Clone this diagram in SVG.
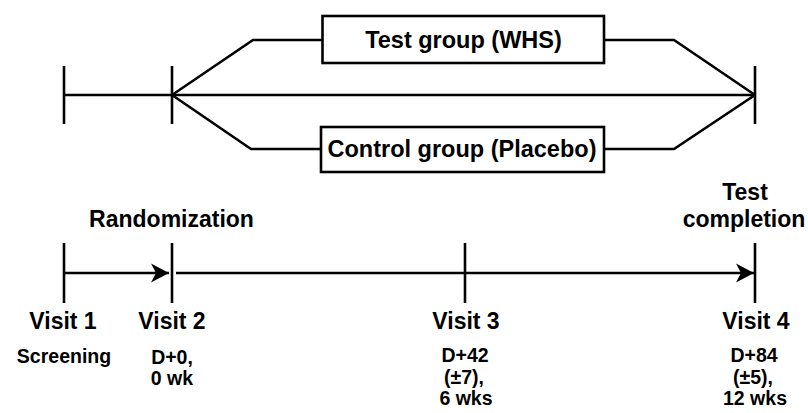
<svg xmlns="http://www.w3.org/2000/svg" width="808" height="413" viewBox="0 0 808 413">
<defs>
<style>
.ln{stroke:#000;stroke-width:2.6;fill:none;stroke-linejoin:miter}
.box{stroke:#000;stroke-width:2.6;fill:#fff}
.t{font-family:"Liberation Sans",Arial,sans-serif;font-weight:bold;fill:#000;text-anchor:middle}
.big{font-size:23.5px}
.mid{font-size:23px}
.sm{font-size:19.5px}
</style>
<marker id="ah" markerUnits="userSpaceOnUse" markerWidth="20" markerHeight="20" viewBox="-19 -10 20 20" refX="0" refY="0" orient="auto">
<path d="M0,0 L-18,-9.5 L-13,0 L-18,9.5 Z" fill="#000"/>
</marker>
</defs>
<rect width="808" height="413" fill="#fff"/>
<g id="connectors">
<line class="ln" x1="64" y1="95" x2="755" y2="95"/>
<polyline class="ln" points="172,95 253,40 323,40"/>
<polyline class="ln" points="604,40 674,40 755,95"/>
<polyline class="ln" points="172,95 251,149 321,149"/>
<polyline class="ln" points="604,149 674,149 755,95"/>
<line class="ln" x1="64" y1="66" x2="64" y2="124"/>
<line class="ln" x1="172" y1="66" x2="172" y2="124"/>
<line class="ln" x1="755" y1="66" x2="755" y2="124"/>
<line class="ln" x1="64" y1="273" x2="169" y2="273" marker-end="url(#ah)"/>
<line class="ln" x1="176" y1="273" x2="754" y2="273" marker-end="url(#ah)"/>
<line class="ln" x1="64" y1="243" x2="64" y2="303"/>
<line class="ln" x1="172" y1="243" x2="172" y2="303"/>
<line class="ln" x1="465" y1="243" x2="465" y2="303"/>
<line class="ln" x1="755" y1="243" x2="755" y2="303"/>
</g>
<g id="test-group">
<rect class="box" x="322.5" y="16" width="281.5" height="47"/>
<text class="t big" x="463.5" y="48">Test group (WHS)</text>
</g>
<g id="control-group">
<rect class="box" x="321" y="127" width="283" height="45"/>
<text class="t big" x="462" y="157">Control group (Placebo)</text>
</g>
<g id="randomization">
<text class="t mid" x="171.5" y="227">Randomization</text>
</g>
<g id="test-completion">
<text class="t mid" x="745" y="200">Test</text>
<text class="t mid" x="744" y="227">completion</text>
</g>
<g id="visit1">
<text class="t mid" x="63" y="329">Visit 1</text>
<text class="t sm" x="64" y="363">Screening</text>
</g>
<g id="visit2">
<text class="t mid" x="172" y="329">Visit 2</text>
<text class="t sm" x="172" y="364">D+0,</text>
<text class="t sm" x="172" y="385">0 wk</text>
</g>
<g id="visit3">
<text class="t mid" x="466" y="329">Visit 3</text>
<text class="t sm" x="465" y="362">D+42</text>
<text class="t sm" x="464" y="384">(±7),</text>
<text class="t sm" x="466" y="405">6 wks</text>
</g>
<g id="visit4">
<text class="t mid" x="756" y="329">Visit 4</text>
<text class="t sm" x="754" y="362">D+84</text>
<text class="t sm" x="753" y="384">(±5),</text>
<text class="t sm" x="755" y="405">12 wks</text>
</g>
</svg>
